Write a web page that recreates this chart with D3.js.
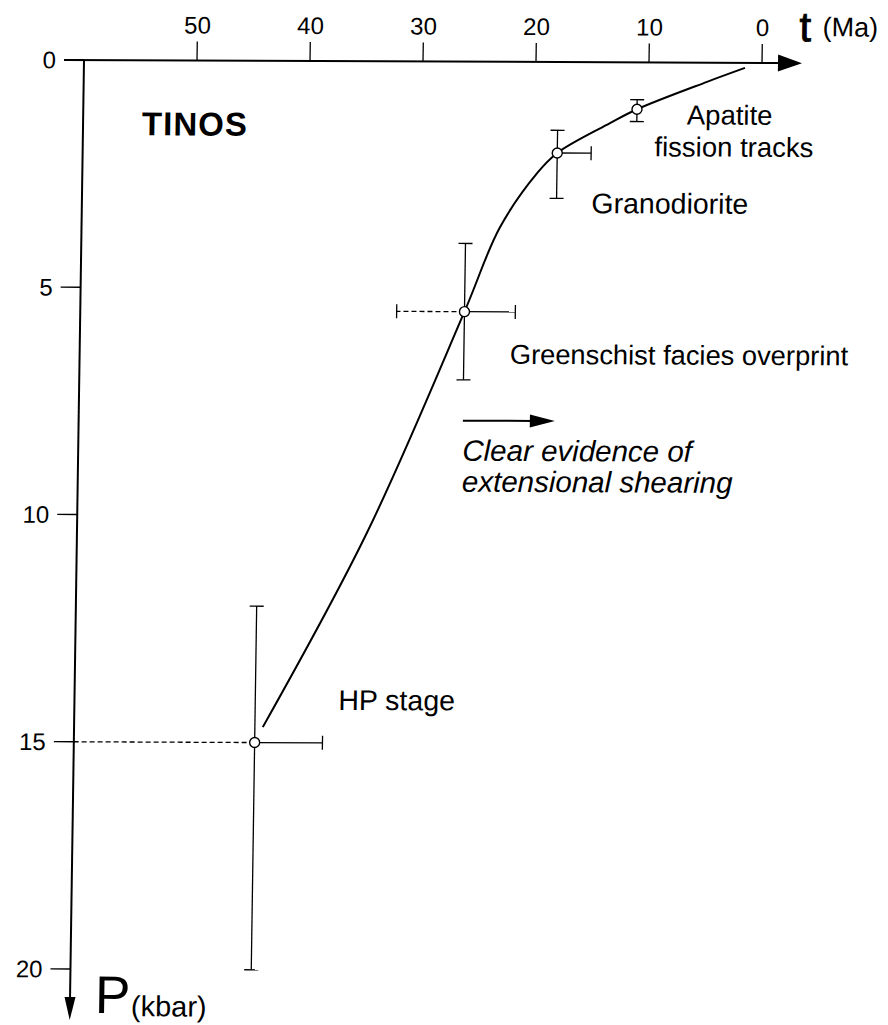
<!DOCTYPE html>
<html>
<head>
<meta charset="utf-8">
<script src="https://cdn.jsdelivr.net/npm/d3@7/dist/d3.min.js"></script>
<style>
  html, body { margin: 0; padding: 0; background: #fff; }
  svg { display: block; }
  text { font-family: "Liberation Sans", Arial, Helvetica, sans-serif; fill: #000; }
</style>
</head>
<body>
<svg id="chart" width="888" height="1025"></svg>
<script>
// ---------------- data ----------------
const stageNames    = ["HP stage", "Greenschist facies overprint", "Granodiorite", "Apatite fission tracks"];
const stageAgeMa    = [44, 26, 18, 11];
const stagePkbar    = [15, 5.5, 2.0, 1.03];
const stagePmin     = [12, 4.0, 1.5, 0.82];
const stagePmax     = [20, 7.0, 3.0, 1.30];
const stageAgeYoung = [38, 21.5, 15, null];   // solid horizontal bar (younger bound)
const stageAgeOld   = [60, 32, null, null];   // dashed horizontal bar (older bound)

const pathAgeMa = [43.3, 34.35, 26.0, 22.97, 19.7, 18.0, 13.37, 11.0, 4.84, 1.5];
const pathPkbar = [14.66, 10.38, 5.5, 3.64, 2.43, 2.0, 1.34, 1.03, 0.42, 0.11];

const ageTicks = [50, 40, 30, 20, 10, 0];
const pTicks   = [0, 5, 10, 15, 20];

// ---------------- layout ----------------
const svg = d3.select("#chart");
const x = d3.scaleLinear().domain([60, 0]).range([84, 762]);
const y = d3.scaleLinear().domain([0, 20]).range([60, 969]);

// the original plate is slightly sheared; reproduce with a small matrix
const sx = -0.0149, sy = 0.0044;
const ox = x(60), oy = y(0);
const g = svg.append("g")
  .attr("transform", `matrix(1,${sy},${sx},1,${-oy*sx},${-ox*sy})`);

// ---------------- axes ----------------
// t axis (top)
g.append("line")
  .attr("x1", x(60) - 20).attr("x2", 790)
  .attr("y1", y(0)).attr("y2", y(0))
  .attr("stroke", "#000").attr("stroke-width", 2);
g.append("path")
  .attr("d", `M${802},${y(0)} L${778},${y(0) - 8.5} L${778},${y(0) + 8.5} Z`)
  .attr("fill", "#000");

const xt = g.append("g").selectAll("g.xt").data(ageTicks).join("g");
xt.append("line")
  .attr("x1", d => x(d)).attr("x2", d => x(d))
  .attr("y1", y(0)).attr("y2", y(0) - 19)
  .attr("stroke", "#000").attr("stroke-width", 1.3);
xt.append("text")
  .attr("x", d => x(d)).attr("y", y(0) - 27)
  .attr("text-anchor", "middle")
  .attr("font-size", 24)
  .text(d => d);

// P axis (left)
g.append("line")
  .attr("x1", x(60)).attr("x2", x(60))
  .attr("y1", y(0)).attr("y2", 1005)
  .attr("stroke", "#000").attr("stroke-width", 2);
g.append("path")
  .attr("d", `M${x(60)},${1020} L${x(60) - 5.5},${997} L${x(60) + 5.5},${997} Z`)
  .attr("fill", "#000");

const yt = g.append("g").selectAll("g.yt").data(pTicks).join("g");
yt.append("line")
  .attr("x1", x(60) - 20).attr("x2", x(60))
  .attr("y1", d => y(d)).attr("y2", d => y(d))
  .attr("stroke", "#000").attr("stroke-width", d => d === 0 ? 2 : 1.3);
yt.append("text")
  .attr("x", x(60) - 28).attr("y", d => y(d))
  .attr("dy", "0.35em")
  .attr("text-anchor", "end")
  .attr("font-size", 24)
  .text(d => d);

// axis titles
g.append("text").attr("x", 799).attr("y", 38)
  .attr("font-size", 42).attr("stroke", "#000").attr("stroke-width", 0.9)
  .text("t");
g.append("text").attr("x", 822).attr("y", 33)
  .attr("font-size", 27).text("(Ma)");

g.append("text").attr("x", 109).attr("y", 1013)
  .attr("font-size", 53).text("P");
g.append("text").attr("x", 145).attr("y", 1016)
  .attr("font-size", 29).text("(kbar)");

g.append("text")
  .attr("x", x(60) + 59).attr("y", y(0) + 75)
  .attr("font-size", 33).attr("font-weight", "bold")
  .attr("letter-spacing", 1)
  .text("TINOS");

// ---------------- P–t path ----------------
const line = d3.line()
  .x((d, i) => x(pathAgeMa[i]))
  .y((d, i) => y(pathPkbar[i]))
  .curve(d3.curveCatmullRom.alpha(0.5));
g.append("path")
  .attr("d", line(pathAgeMa))
  .attr("fill", "none")
  .attr("stroke", "#000")
  .attr("stroke-width", 2);

// ---------------- error bars & points ----------------
const idx = d3.range(stageNames.length);
const cap = 7;
const eb = g.append("g").attr("stroke", "#000").attr("stroke-width", 1.3).attr("fill", "none");

idx.forEach(i => {
  const cx = x(stageAgeMa[i]), cy = y(stagePkbar[i]);
  // vertical
  eb.append("line").attr("x1", cx).attr("x2", cx).attr("y1", y(stagePmin[i])).attr("y2", y(stagePmax[i]));
  eb.append("line").attr("x1", cx - cap).attr("x2", cx + cap).attr("y1", y(stagePmin[i])).attr("y2", y(stagePmin[i]));
  eb.append("line").attr("x1", cx - cap).attr("x2", cx + cap).attr("y1", y(stagePmax[i])).attr("y2", y(stagePmax[i]));
  // solid younger bound
  if (stageAgeYoung[i] !== null) {
    eb.append("line").attr("x1", cx).attr("x2", x(stageAgeYoung[i])).attr("y1", cy).attr("y2", cy);
    eb.append("line").attr("x1", x(stageAgeYoung[i])).attr("x2", x(stageAgeYoung[i])).attr("y1", cy - cap).attr("y2", cy + cap);
  }
  // dashed older bound
  if (stageAgeOld[i] !== null) {
    eb.append("line").attr("x1", cx).attr("x2", x(stageAgeOld[i])).attr("y1", cy).attr("y2", cy)
      .attr("stroke-dasharray", "5,3");
    if (stageAgeOld[i] < 60) {
      eb.append("line").attr("x1", x(stageAgeOld[i])).attr("x2", x(stageAgeOld[i])).attr("y1", cy - cap).attr("y2", cy + cap);
    }
  }
});

g.append("g").selectAll("circle").data(idx).join("circle")
  .attr("cx", i => x(stageAgeMa[i]))
  .attr("cy", i => y(stagePkbar[i]))
  .attr("r", 5)
  .attr("fill", "#fff")
  .attr("stroke", "#000")
  .attr("stroke-width", 1.4);

// ---------------- labels ----------------
const P = i => [x(stageAgeMa[i]), y(stagePkbar[i])];

// HP stage
g.append("text").attr("x", P(0)[0] + 83).attr("y", P(0)[1] - 33).attr("font-size", 28.5).text(stageNames[0]);
// Greenschist
g.append("text").attr("x", P(1)[0] + 46).attr("y", P(1)[1] + 52).attr("font-size", 27.3).text(stageNames[1]);
// Granodiorite
g.append("text").attr("x", P(2)[0] + 35).attr("y", P(2)[1] + 60).attr("font-size", 28.5).text(stageNames[2]);
// Apatite fission tracks (two lines)
g.append("text").attr("x", P(3)[0] + 50).attr("y", P(3)[1] + 15).attr("font-size", 27.5).text("Apatite");
g.append("text").attr("x", P(3)[0] + 18).attr("y", P(3)[1] + 47).attr("font-size", 27.5).text("fission tracks");

// extensional shearing arrow + note
const ax0 = P(1)[0], ay = P(1)[1] + 109;
g.append("line").attr("x1", ax0).attr("x2", ax0 + 72).attr("y1", ay).attr("y2", ay)
  .attr("stroke", "#000").attr("stroke-width", 2);
g.append("path")
  .attr("d", `M${ax0 + 92},${ay} L${ax0 + 67},${ay - 6.5} L${ax0 + 67},${ay + 6.5} Z`)
  .attr("fill", "#000");
g.append("text").attr("x", ax0).attr("y", P(1)[1] + 149).attr("font-size", 29.5).attr("font-style", "italic")
  .text("Clear evidence of");
g.append("text").attr("x", ax0).attr("y", P(1)[1] + 180).attr("font-size", 29.5).attr("font-style", "italic")
  .text("extensional shearing");
</script>
</body>
</html>
